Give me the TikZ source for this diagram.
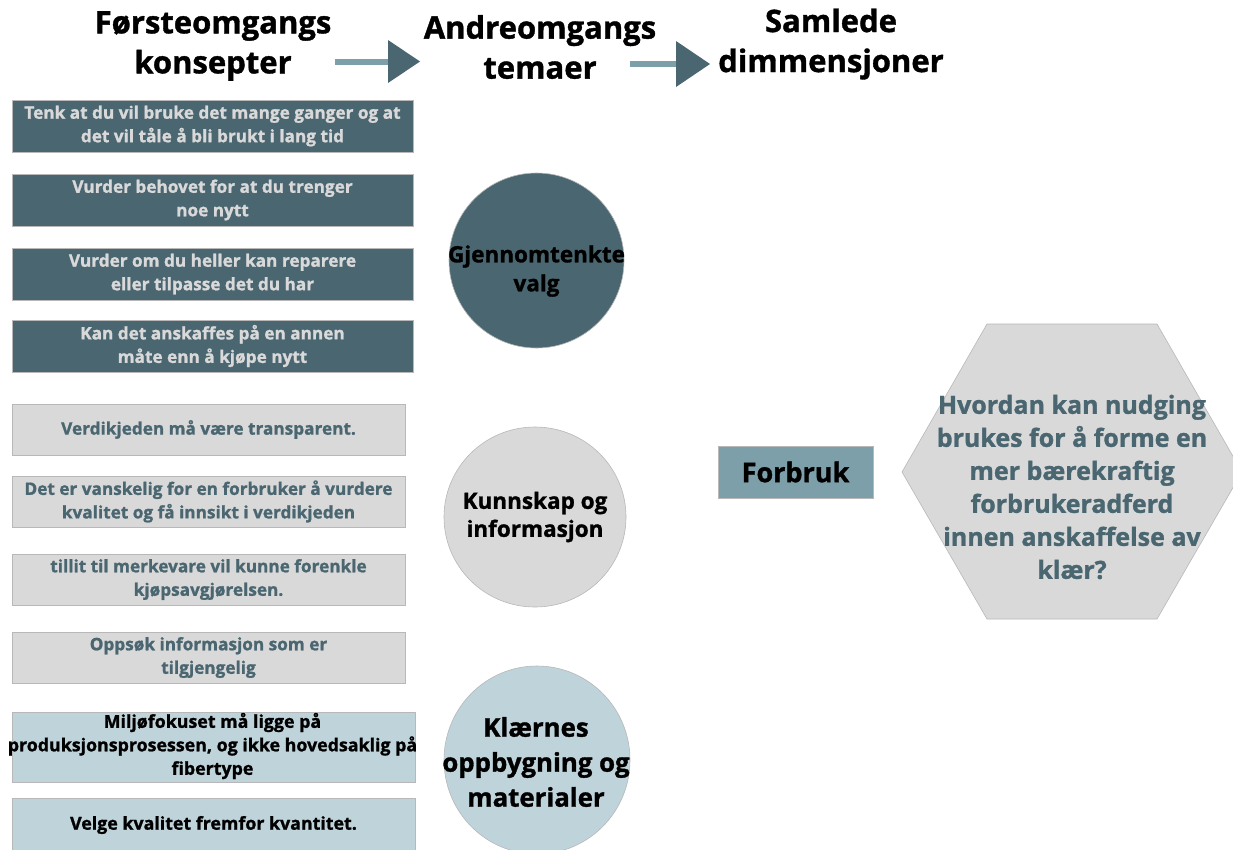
\documentclass[tikz,border=0pt]{standalone}
\usepackage{fontspec}
\setmainfont{Open Sans}[BoldFeatures={FakeBold=1.2}]
\usetikzlibrary{shapes.geometric}
\definecolor{tealdark}{HTML}{4A6670}
\definecolor{tealmid}{HTML}{7C9FAA}
\definecolor{greylight}{HTML}{D9D9D9}
\definecolor{bluelight}{HTML}{BFD3DA}
\definecolor{edgegrey}{HTML}{B8B8B8}
\tikzset{
  header/.style={align=center, font=\fontsize{31}{40}\selectfont\bfseries, text=black},
  boxbase/.style={draw=edgegrey, line width=0.6pt, align=center, inner sep=0pt,
    font=\fontsize{17.2}{23.5}\selectfont\bfseries},
  darkbox/.style={boxbase, fill=tealdark, minimum width=401pt, minimum height=52pt, text=greylight},
  greybox/.style={boxbase, fill=greylight, minimum width=393pt, minimum height=51pt, text=tealdark},
  bluebox/.style={boxbase, fill=bluelight, minimum width=403pt, text=black,
    font=\fontsize{17.8}{23.5}\selectfont\bfseries},
  bluetext/.style={align=center, text=black, inner sep=0pt, font=\fontsize{17.8}{23.5}\selectfont\bfseries},
  disc/.style={ellipse, draw=edgegrey, line width=0.6pt, inner sep=0pt},
  themetext/.style={align=center, text=black, inner sep=0pt},
  shaft/.style={draw=tealmid, line width=6pt},
  head/.style={fill=tealdark, draw=none},
}
\begin{document}
\begin{tikzpicture}[x=1pt, y=-1pt]
\useasboundingbox (0,0) rectangle (1233,849);
\fill[white] (0,0) rectangle (1233,849);

% column headings
\node[header] (h1) at (213,46) {Førsteomgangs\\konsepter};
\node[header] (h2) at (540,47) {Andreomgangs\\temaer};
\node[header] (h3) at (831,44) {Samlede\\dimmensjoner};

% heading arrows
\coordinate (a1s) at (335,62);
\coordinate (a1e) at (392,62);
\coordinate (a2s) at (630,64);
\coordinate (a2e) at (680,64);
\draw[shaft] (a1s) -- (a1e);
\fill[head] (388,40) -- (420,61.5) -- (388,83) -- cycle;
\draw[shaft] (a2s) -- (a2e);
\fill[head] (676,41) -- (710,64) -- (676,87) -- cycle;

% first-round concepts
\node[darkbox] (b1) at (212.5,126) {Tenk at du vil bruke det mange ganger og at\\det vil tåle å bli brukt i lang tid};
\node[darkbox] (b2) at (212.5,200) {Vurder behovet for at du trenger\\noe nytt};
\node[darkbox] (b3) at (212.5,274) {Vurder om du heller kan reparere\\eller tilpasse det du har};
\node[darkbox] (b4) at (212.5,346) {Kan det anskaffes på en annen\\måte enn å kjøpe nytt};

\node[greybox] (b5) at (208.5,429.5) {Verdikjeden må være transparent.};
\node[greybox] (b6) at (208.5,501.5) {Det er vanskelig for en forbruker å vurdere\\kvalitet og få innsikt i verdikjeden};
\node[greybox] (b7) at (208.5,579.5) {tillit til merkevare vil kunne forenkle\\kjøpsavgjørelsen.};
\node[greybox] (b8) at (208.5,657.5) {Oppsøk informasjon som er\\tilgjengelig};

% the text of this box runs a little past its edges
\node[bluebox, minimum height=70pt] (b9) at (213.5,747) {};
\node[bluetext] (b9t) at (212.5,746) {Miljøfokuset må ligge på\\produksjonsprosessen, og ikke hovedsaklig på\\fibertype};
\node[bluebox, minimum height=54pt] (b10) at (213.5,825) {Velge kvalitet fremfor kvantitet.};

% second-round themes
\node[disc, fill=tealdark, minimum width=175pt, minimum height=175pt] (c1) at (536.5,260.5) {};
\node[themetext, font=\fontsize{22.5}{29}\selectfont\bfseries] (c1t) at (536.5,271) {Gjennomtenkte\\valg};
\node[disc, fill=greylight, minimum width=182pt, minimum height=180pt] (c2) at (535,517) {};
\node[themetext, font=\fontsize{22.5}{28}\selectfont\bfseries] (c2t) at (c2) {Kunnskap og\\informasjon};
\node[disc, fill=bluelight, minimum width=186pt, minimum height=188pt] (c3) at (537,760) {};
\node[themetext, font=\fontsize{25.8}{35}\selectfont\bfseries] (c3t) at (536,762) {Klærnes\\oppbygning og\\materialer};

% overall dimension
\node[fill=tealmid, draw=edgegrey, line width=0.6pt, minimum width=155pt, minimum height=52pt,
  font=\fontsize{27}{30}\selectfont\bfseries, text=black, inner sep=0pt] (f) at (795.5,472) {Forbruk};

% research question
\coordinate (q) at (1072,472);
\fill[greylight, draw=edgegrey, line width=0.6pt]
  (902,472) -- (987,324) -- (1157,324) -- (1242,472) -- (1157,619) -- (987,619) -- cycle;
\node[align=center, text=tealdark, font=\fontsize{25}{33}\selectfont\bfseries] (qt) at (1072,487)
  {Hvordan kan nudging\\brukes for å forme en\\mer bærekraftig\\forbrukeradferd\\innen anskaffelse av\\klær?};
\end{tikzpicture}
\end{document}
